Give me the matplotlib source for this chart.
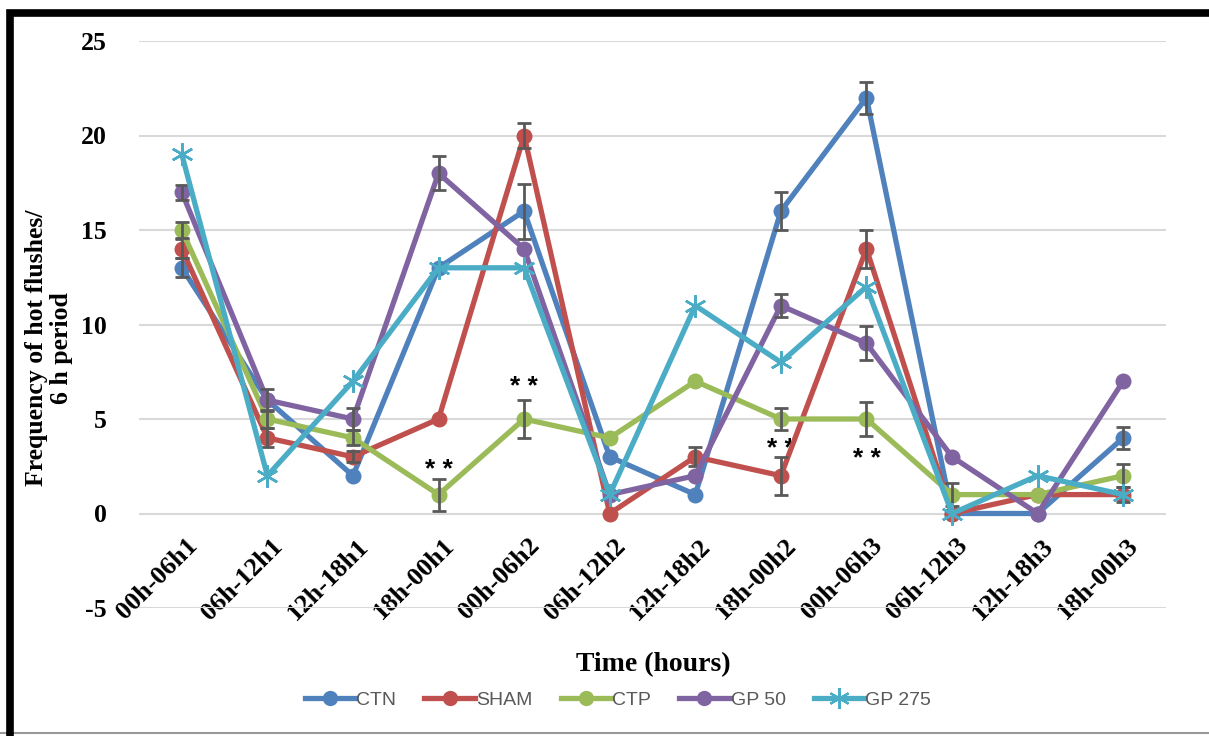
import numpy as np
import matplotlib
matplotlib.use("Agg")
import matplotlib.pyplot as plt
from matplotlib.transforms import ScaledTranslation
from matplotlib.patches import Rectangle
from matplotlib.lines import Line2D

plt.rcParams["axes.unicode_minus"] = False

periods = ["00h-06h1", "06h-12h1", "12h-18h1", "18h-00h1", "00h-06h2", "06h-12h2",
           "12h-18h2", "18h-00h2", "00h-06h3", "06h-12h3", "12h-18h3", "18h-00h3"]

ctn   = [13, 6, 2, 13, 16, 3, 1, 16, 22, 0, 0, 4]
sham  = [14, 4, 3, 5, 20, 0, 3, 2, 14, 0, 1, 1]
ctp   = [15, 5, 4, 1, 5, 4, 7, 5, 5, 1, 1, 2]
gp50  = [17, 6, 5, 18, 14, 1, 2, 11, 9, 3, 0, 7]
gp275 = [19, 2, 7, 13, 13, 1, 11, 8, 12, 0, 2, 1]

# standard errors (0 = no bar shown)
err_ctn   = [0.5, 0, 0, 0, 1.45, 0, 0, 1.0, 0.85, 0, 0, 0.6]
err_sham  = [0.5, 0.5, 0.3, 0, 0.65, 0, 0.5, 1.0, 1.0, 0, 0, 0.4]
err_ctp   = [0.4, 0.5, 0.4, 0.85, 1.0, 0, 0, 0.6, 0.9, 0.6, 0, 0.6]
err_gp50  = [0.4, 0.6, 0.6, 0.9, 0, 0, 0, 0.6, 0.9, 0, 0, 0]
err_gp275 = [0] * 12

# significance marks: (period index, y position)
sig_idx = [3, 4, 7, 8]
sig_y = [2.3, 6.7, 3.4, 2.9]

series = [
    ("CTN", ctn, err_ctn, "#4F81BD", "o"),
    ("SHAM", sham, err_sham, "#C0504D", "o"),
    ("CTP", ctp, err_ctp, "#9BBB59", "o"),
    ("GP 50", gp50, err_gp50, "#8064A2", "o"),
    ("GP 275", gp275, err_gp275, "#4BACC6", (6, 2, 0)),
]

fig = plt.figure(figsize=(12.09, 7.36), dpi=100)
ax = fig.add_axes([139/1209, 1-608/736, (1166-139)/1209, (608-41)/736])

x = np.arange(len(periods))
handles = []
for i, (name, vals, err, col, mk) in enumerate(series):
    star = not isinstance(mk, str)
    ax.plot(x, vals, color=col, lw=3.8, marker=mk,
            ms=16 if star else 11.5, mew=1.8 if star else 0,
            mec=col, zorder=3 + i)
    err = np.array(err)
    keep = err > 0
    if keep.any():
        ax.errorbar(x[keep], np.array(vals)[keep], yerr=err[keep], fmt="none",
                    ecolor="#595959", elinewidth=2, capsize=5, capthick=2,
                    zorder=3 + i)
    handles.append(Line2D([], [], color=col, lw=3.8, marker=mk,
                          ms=15 if star else 11, mew=1.6 if star else 0, mec=col,
                          label=name))

for xi, yi in zip(sig_idx, sig_y):
    ax.text(x[xi], yi, "* *", ha="center", va="center", fontsize=19,
            family="Liberation Sans", fontweight="bold")

ax.set_ylim(-5, 25)
ax.set_xlim(-0.5, len(periods) - 0.5)
ax.set_yticks([-5, 0, 5, 10, 15, 20, 25])
ax.grid(axis="y", color="#d9d9d9", lw=1.5)
ax.set_axisbelow(True)
for s in ax.spines.values():
    s.set_visible(False)
ax.spines["bottom"].set_position(("data", 0))
ax.tick_params(axis="both", length=0)
ax.tick_params(axis="y", pad=23)
for lbl in ax.get_yticklabels():
    lbl.set_fontfamily("Liberation Serif")
    lbl.set_fontweight("bold")
    lbl.set_fontsize(18.5)

ax.set_xticks(x)
ax.set_xticklabels(periods, rotation=45, ha="right", va="center",
                   rotation_mode="anchor", family="Liberation Serif",
                   fontweight="bold", fontsize=19)
shift = ScaledTranslation(0.12, -0.24, fig.dpi_scale_trans)
for lbl in ax.get_xticklabels():
    lbl.set_transform(lbl.get_transform() + shift)

fig.text(49/1209, 1-348/736, "Frequency of hot flushes/\n6 h period", rotation=90,
         ha="center", va="center", multialignment="center",
         family="Liberation Serif", fontweight="bold", fontsize=18.5,
         linespacing=1.15)
fig.text(653/1209, 1-665/736, "Time (hours)", ha="center", va="center",
         family="Liberation Serif", fontweight="bold", fontsize=20)

leg = fig.legend(handles=handles, loc="center", ncol=5, frameon=False,
                 bbox_to_anchor=(618/1209, 1-700/736), handlelength=2.6,
                 columnspacing=1.45, handletextpad=0.05,
                 prop={"family": "Liberation Sans", "size": 14})
for t in leg.get_texts():
    t.set_color("#595959")

# outer frame
fig.patches.append(Rectangle((10/1209, -0.1), 1.2, 1 - 13/736 + 0.1,
                             transform=fig.transFigure, fill=False,
                             edgecolor="black", lw=5.5, zorder=10))
fig.lines.append(Line2D([0, 1], [3/736, 3/736], transform=fig.transFigure,
                        color="#999999", lw=1.5))

fig.savefig("out.png", dpi=100)
